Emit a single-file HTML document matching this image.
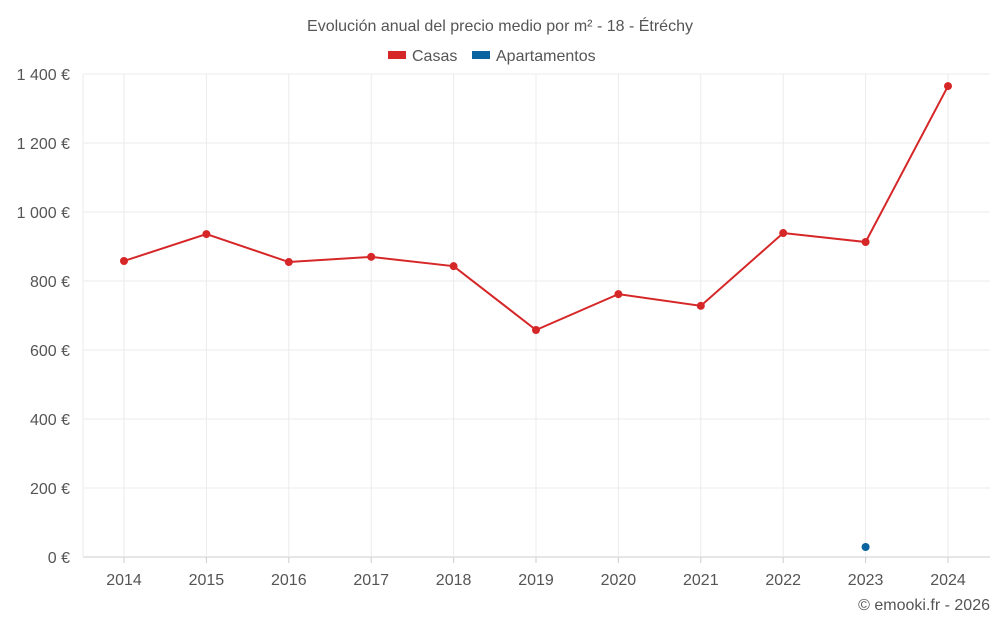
<!DOCTYPE html>
<html><head><meta charset="utf-8"><style>
body{margin:0;background:#fff;font-family:"Liberation Sans",sans-serif;}
svg text{font-family:"Liberation Sans",sans-serif;}
</style></head><body>
<svg id="chart" width="1000" height="625">
<text x="500" y="31" text-anchor="middle" font-size="16" fill="#555">Evolución anual del precio medio por m² - 18 - Étréchy</text>
<g>
<g><rect x="388" y="51" width="18" height="8" fill="#d62728"/><text x="412" y="61" font-size="16" fill="#555">Casas</text></g>
<g><rect x="472" y="51" width="18" height="8" fill="#08639e"/><text x="496" y="61" font-size="16" fill="#555">Apartamentos</text></g>
</g>
<g id="grid"></g><g id="axes"></g><g id="series"></g>
<text x="990" y="610" text-anchor="end" font-size="16" fill="#555">© emooki.fr - 2026</text>
</svg>
<script>
const years=[2014,2015,2016,2017,2018,2019,2020,2021,2022,2023,2024];
const casas=[858,936,855,870,843,658,762,728,939,913,1365];
const apartamentos=[null,null,null,null,null,null,null,null,null,29,null];
const yTicks=[0,200,400,600,800,1000,1200,1400];
const yTickLabels=["0 €","200 €","400 €","600 €","800 €","1 000 €","1 200 €","1 400 €"];
const NS="http://www.w3.org/2000/svg";
const L=83,R=990,T=74,B=557;
function x(i){return 124+i*(948-124)/(years.length-1);}
function y(v){return B-(v/1400)*(B-T);}
function mk(tag,attrs,parent){const e=document.createElementNS(NS,tag);for(const k in attrs)e.setAttribute(k,attrs[k]);parent.appendChild(e);return e;}
const grid=document.getElementById('grid'),axes=document.getElementById('axes'),ser=document.getElementById('series');
yTicks.forEach((v,i)=>{
 const g=mk('line',{x1:L,x2:R,y1:y(v),y2:y(v),stroke:v===0?'#ccc':'#ebebeb','stroke-width':1},grid);
 
 
 const t=mk('text',{x:70,y:y(v)+6,'text-anchor':'end','font-size':16,fill:'#555'},axes);
 t.textContent=yTickLabels[i];
 
 
});
years.forEach((yr,i)=>{
 const g=mk('line',{x1:x(i),x2:x(i),y1:T,y2:B,stroke:'#ebebeb','stroke-width':1},grid);
 
 
 const tk=mk('line',{x1:x(i),x2:x(i),y1:B,y2:B+6,stroke:'#ccc'},axes);
 
 
 const t=mk('text',{x:x(i),y:585,'text-anchor':'middle','font-size':16,fill:'#555'},axes);
 t.textContent=yr;
 
 
});
const va=mk('line',{x1:L,x2:L,y1:T,y2:B,stroke:'#ebebeb'},grid);


const pts=casas.map((v,i)=>v==null?null:x(i)+','+y(v)).filter(p=>p).join(' ');
const pl=mk('polyline',{points:pts,fill:'none',stroke:'#d62728','stroke-width':2},ser);


casas.forEach((v,i)=>{if(v==null)return;
 const c=mk('circle',{cx:x(i),cy:y(v),r:4,fill:'#d62728'},ser);
 
 
});
apartamentos.forEach((v,i)=>{if(v==null)return;
 const c=mk('circle',{cx:x(i),cy:y(v),r:4,fill:'#08639e'},ser);
 
 
});
</script>
</body></html>
